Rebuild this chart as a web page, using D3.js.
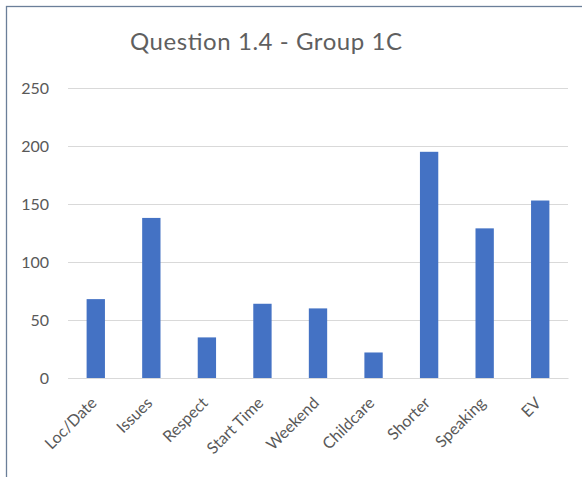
<!DOCTYPE html>
<html><head><meta charset="utf-8">
<script src="https://cdn.jsdelivr.net/npm/d3@7"></script>
<style>body{margin:0;background:#fff}svg{display:block}</style>
</head><body>
<script>
const categories = ["Loc/Date","Issues","Respect","Start Time","Weekend","Childcare","Shorter","Speaking","EV"];
const values = [68, 138, 35, 64, 60, 22, 195, 129, 153];
const yTicks = [0, 50, 100, 150, 200, 250];
const title = "Question 1.4 - Group 1C";

(function(){
const W = 582, H = 477;
const svg = d3.select("body").append("svg").attr("width", W).attr("height", H);
const font = "Lato, 'Open Sans', sans-serif";

svg.append("rect").attr("x",0).attr("y",0).attr("width",W).attr("height",H).attr("fill","#fff");
// border (top & left visible)
svg.append("rect").attr("x",6.5).attr("y",6.5).attr("width",W+10).attr("height",H+10)
  .attr("fill","#fff").attr("stroke","#6b7f99").attr("stroke-width",1.3);

const mLeft = 68, mRight = 568, mTop = 88, mBottom = 378;
const x = d3.scaleBand().domain(categories).range([mLeft, mRight]).paddingInner(0.67).paddingOuter(0.335);
const y = d3.scaleLinear().domain([0, 250]).range([mBottom, mTop]);

svg.append("text").attr("x", 266).attr("y", 50).attr("text-anchor","middle")
  .attr("font-family", font).attr("font-size", 24).attr("fill","#5f5f5f")
  .attr("textLength", 272).attr("lengthAdjust","spacing").text(title);

const yAxis = d3.axisLeft(y).tickValues(yTicks).tickSize(-(mRight-mLeft)).tickPadding(19);
const gy = svg.append("g").attr("transform", `translate(${mLeft},0)`).call(yAxis);
gy.select(".domain").remove();
gy.selectAll(".tick line").attr("stroke","#d9d9d9").attr("stroke-width",1);
gy.selectAll(".tick text").attr("font-family", font).attr("font-size", 16).attr("fill","#595959");

svg.append("g").selectAll("rect").data(categories).join("rect")
  .attr("x", d => x(d)).attr("width", x.bandwidth())
  .attr("y", (d,i) => y(values[i])).attr("height", (d,i) => y(0) - y(values[i]))
  .attr("fill", "#4472c4");

const xAxis = d3.axisBottom(x).tickSize(0).tickPadding(0);
const gx = svg.append("g").attr("transform", `translate(0,${mBottom})`).call(xAxis);
gx.select(".domain").attr("stroke","#d9d9d9");
gx.selectAll(".tick text").attr("font-family", font).attr("font-size", 16).attr("fill","#595959")
  .attr("text-anchor","end").attr("dy", 0).attr("y", 0)
  .attr("transform", "translate(2,26) rotate(-45)");
})();
</script>
</body></html>
